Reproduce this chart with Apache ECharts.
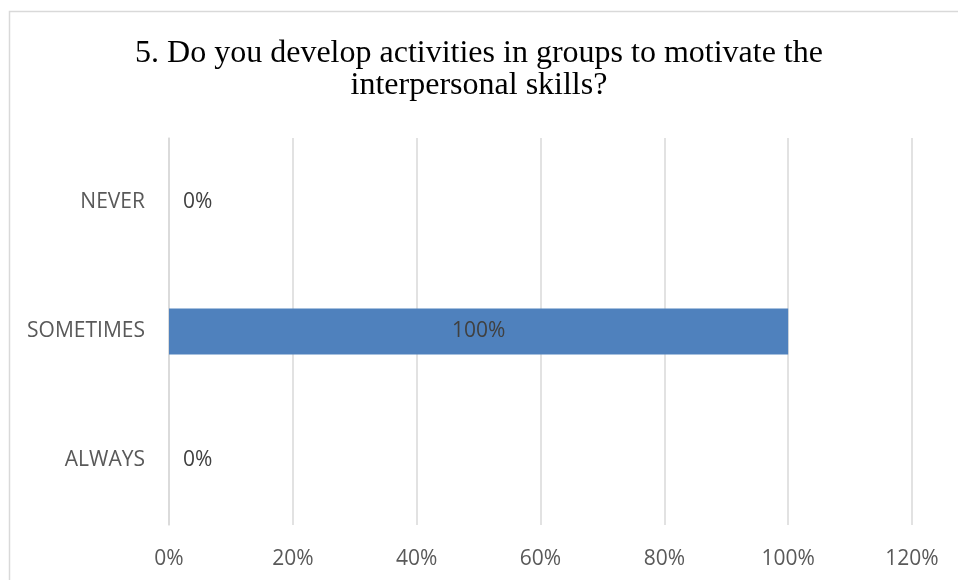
<!DOCTYPE html>
<html>
<head>
<meta charset="utf-8">
<script src="https://cdn.jsdelivr.net/npm/echarts@6/dist/echarts.min.js"></script>
<style>
  html, body { margin: 0; padding: 0; background: #fff; }
  #chart { width: 958px; height: 580px; }
</style>
</head>
<body>
<div id="chart"></div>
<script>
// Survey question and answers
const titleLines = ['5. Do you develop activities in groups to motivate the', 'interpersonal skills?'];
const categories = ['ALWAYS', 'SOMETIMES', 'NEVER'];
const shares = [0, 100, 0];
const tickValues = [0, 20, 40, 60, 80, 100, 120];

const axisFont = '"Open Sans", sans-serif';
const chart = echarts.init(document.getElementById('chart'));

chart.setOption({
  animation: false,
  backgroundColor: '#ffffff',
  title: {
    text: titleLines.join('\n'),
    left: 'center',
    top: 33,
    textStyle: {
      fontFamily: '"Liberation Serif", "Times New Roman", serif',
      fontSize: 32,
      fontWeight: 'normal',
      color: '#000000',
      lineHeight: 32
    }
  },
  graphic: [{
    type: 'rect',
    shape: { x: 9.5, y: 11.5, width: 1000, height: 1000 },
    style: { fill: 'none', stroke: '#d9d9d9', lineWidth: 1.5 },
    silent: true
  }],
  grid: { left: 169, right: 46, top: 138, bottom: 55 },
  xAxis: {
    type: 'value',
    min: tickValues[0],
    max: tickValues[tickValues.length - 1],
    interval: tickValues[1] - tickValues[0],
    axisLine: { show: false },
    axisTick: { show: false },
    splitLine: { lineStyle: { color: '#d9d9d9', width: 1.5 } },
    axisLabel: {
      formatter: v => v + '%',
      color: '#595959',
      fontFamily: axisFont,
      fontSize: 21,
      margin: 24
    }
  },
  yAxis: {
    type: 'category',
    data: categories,
    axisLine: { show: true, lineStyle: { color: '#d9d9d9', width: 1.5 } },
    axisTick: { show: false },
    axisLabel: {
      color: '#595959',
      fontFamily: axisFont,
      fontSize: 21,
      margin: 24,
      padding: [5, 0, 0, 0]
    }
  },
  series: [{
    type: 'bar',
    barWidth: 46,
    itemStyle: { color: '#4f81bd' },
    data: shares.map(v => ({
      value: v,
      label: v > 0
        ? { show: true, position: 'inside' }
        : { show: true, position: 'right', distance: 14 }
    })),
    label: {
      formatter: p => p.value + '%',
      color: '#404040',
      fontFamily: axisFont,
      fontSize: 21,
      padding: [5, 0, 0, 0]
    }
  }]
});
</script>
</body>
</html>
